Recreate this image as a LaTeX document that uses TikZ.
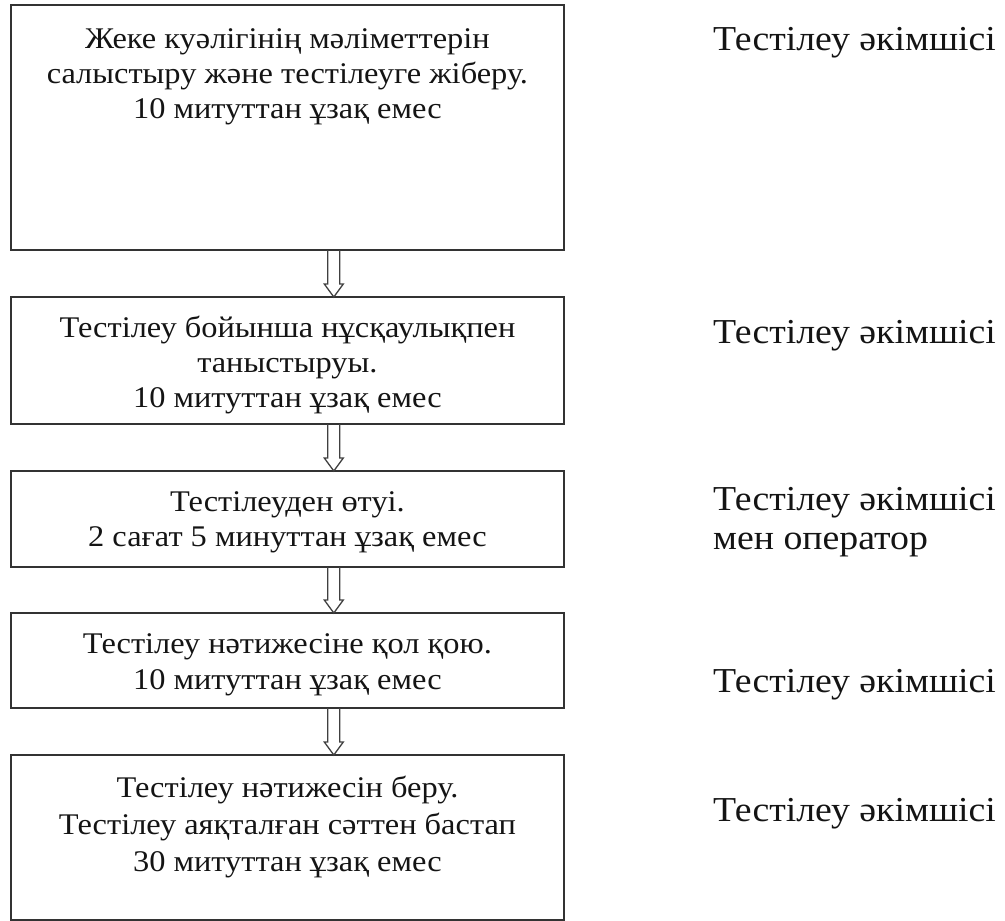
\documentclass[tikz,border=0pt]{standalone}
\usepackage{fontspec}
\setmainfont[FakeStretch=1.08]{Liberation Serif}
\begin{document}
\begin{tikzpicture}[x=1pt,y=-1pt,
  box/.style={draw=black!80, line width=1.8pt, minimum width=553pt, anchor=north west, inner sep=0pt, outer sep=0pt},
  boxtxt/.style={anchor=base, align=center, inner sep=0pt, text=black!92, font=\fontsize{30}{35}\selectfont},
  role/.style={anchor=base west, align=left, inner sep=0pt, text=black!92, font=\fontsize{35}{38}\selectfont},
  hollow/.style={draw=black!75, line width=1.3pt, line join=miter}]
\useasboundingbox (0,0) rectangle (1005,921);
% boxes
\node[box, minimum height=245pt] (b1) at (10.7,5) {};
\node[box, minimum height=127pt] (b2) at (10.7,297) {};
\node[box, minimum height=96pt]  (b3) at (10.7,471) {};
\node[box, minimum height=95pt]  (b4) at (10.7,613) {};
\node[box, minimum height=165pt] (b5) at (10.7,755) {};
% box texts
\node[boxtxt] (t1a) at (287.4,48) {Жеке куәлігінің мәліметтерін};
\node[boxtxt] (t1b) at (287.4,83) {салыстыру және тестілеуге жіберу.};
\node[boxtxt] (t1c) at (287.4,118) {10 митуттан ұзақ емес};
\node[boxtxt] (t2a) at (287.4,337) {Тестілеу бойынша нұсқаулықпен};
\node[boxtxt] (t2b) at (287.4,372) {таныстыруы.};
\node[boxtxt] (t2c) at (287.4,407) {10 митуттан ұзақ емес};
\node[boxtxt] (t3a) at (287.4,511) {Тестілеуден өтуі.};
\node[boxtxt] (t3b) at (287.4,546) {2 сағат 5 минуттан ұзақ емес};
\node[boxtxt] (t4a) at (287.4,653) {Тестілеу нәтижесіне қол қою.};
\node[boxtxt] (t4b) at (287.4,689) {10 митуттан ұзақ емес};
\node[boxtxt] (t5a) at (287.4,797) {Тестілеу нәтижесін беру.};
\node[boxtxt] (t5b) at (287.4,834) {Тестілеу аяқталған сәттен бастап};
\node[boxtxt] (t5c) at (287.4,871) {30 митуттан ұзақ емес};
% roles
\node[role] (r1) at (713,50) {Тестілеу әкімшісі};
\node[role] (r2) at (713,343) {Тестілеу әкімшісі};
\node[role] (r3a) at (713,510) {Тестілеу әкімшісі};
\node[role] (r3b) at (713,549) {мен оператор};
\node[role] (r4) at (713,692) {Тестілеу әкімшісі};
\node[role] (r5) at (713,821) {Тестілеу әкімшісі};
% arrows
\foreach \u/\v in {b1/b2,b2/b3,b3/b4,b4/b5}{
  \coordinate (s) at ([xshift=46.6pt]\u.south);
  \coordinate (e) at ([xshift=46.6pt]\v.north);
  \draw[hollow] ([xshift=-6pt]s) -- ([xshift=-6pt,yshift=13pt]e) -- ([xshift=-9.5pt,yshift=13pt]e) -- (e)
     -- ([xshift=9.5pt,yshift=13pt]e) -- ([xshift=6pt,yshift=13pt]e) -- ([xshift=6pt]s);
}
\end{tikzpicture}
\end{document}
